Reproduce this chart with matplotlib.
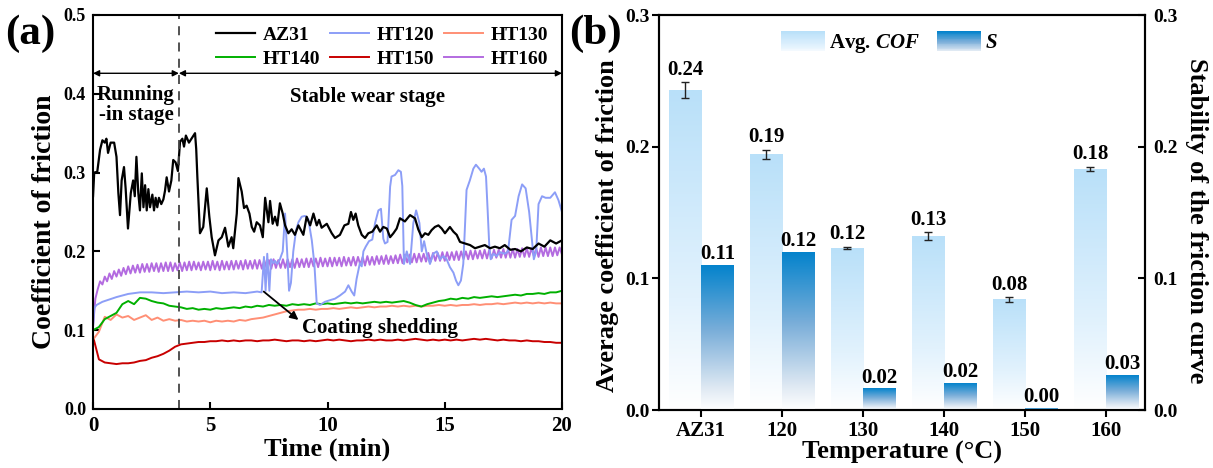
import numpy as np
import matplotlib
matplotlib.use("Agg")
import matplotlib.pyplot as plt
from matplotlib.colors import LinearSegmentedColormap
from matplotlib.patches import Rectangle
from matplotlib.legend_handler import HandlerBase

plt.rcParams['font.family'] = 'Liberation Serif'
plt.rcParams['font.weight'] = 'bold'
plt.rcParams['axes.labelweight'] = 'bold'
plt.rcParams['axes.linewidth'] = 1.5
plt.rcParams['mathtext.fontset'] = 'custom'
plt.rcParams['mathtext.it'] = 'Liberation Serif:italic:bold'
plt.rcParams['mathtext.rm'] = 'Liberation Serif:bold'

# ---- (a) friction curves ----
az31_t = [0.0, 0.05, 0.18, 0.3, 0.4, 0.5, 0.57, 0.64, 0.75, 0.9, 1.0, 1.08, 1.15, 1.22, 1.32,
          1.39, 1.49, 1.61, 1.71, 1.78, 1.85, 1.93, 2.0, 2.08, 2.15, 2.22, 2.29, 2.36, 2.43,
          2.53, 2.6, 2.67, 2.74, 2.81, 2.91, 3.0, 3.07, 3.14, 3.24, 3.34, 3.42, 3.52, 3.62,
          3.71, 3.81, 3.88, 3.96, 4.09, 4.24, 4.35, 4.4, 4.45, 4.56, 4.7, 4.85, 4.96, 5.06,
          5.2, 5.35, 5.49, 5.63, 5.77, 5.91, 5.98, 6.13, 6.2, 6.34, 6.44, 6.55, 6.67, 6.77,
          6.87, 6.98, 7.12, 7.24, 7.34, 7.48, 7.55, 7.66, 7.76, 7.86, 7.97, 8.09, 8.19, 8.33,
          8.47, 8.61, 8.76, 8.97, 9.11, 9.26, 9.4, 9.54, 9.64, 9.75, 9.97, 10.18, 10.32,
          10.53, 10.72, 10.89, 11.0, 11.1, 11.2, 11.31, 11.46, 11.6, 11.74, 11.91, 12.1,
          12.24, 12.38, 12.53, 12.67, 12.81, 12.95, 13.09, 13.3, 13.52, 13.73, 13.87, 14.02,
          14.16, 14.3, 14.44, 14.58, 14.73, 14.87, 15.01, 15.22, 15.37, 15.51, 15.65, 15.86,
          16.08, 16.29, 16.5, 16.71, 16.93, 17.14, 17.35, 17.56, 17.8, 18.0, 18.25, 18.5,
          18.75, 19.0, 19.25, 19.5, 19.75, 20.0]
az31_v = [0.27, 0.30, 0.301, 0.329, 0.341, 0.338, 0.343, 0.325, 0.338, 0.338, 0.32, 0.274,
          0.246, 0.29, 0.307, 0.28, 0.229, 0.274, 0.29, 0.27, 0.32, 0.274, 0.252, 0.299,
          0.256, 0.284, 0.252, 0.279, 0.256, 0.272, 0.252, 0.268, 0.256, 0.268, 0.26, 0.266,
          0.277, 0.294, 0.276, 0.29, 0.316, 0.313, 0.302, 0.339, 0.343, 0.333, 0.347, 0.338,
          0.345, 0.35, 0.33, 0.294, 0.223, 0.231, 0.28, 0.244, 0.218, 0.195, 0.214, 0.218,
          0.23, 0.206, 0.218, 0.204, 0.248, 0.293, 0.276, 0.255, 0.258, 0.248, 0.231, 0.225,
          0.237, 0.233, 0.218, 0.268, 0.237, 0.264, 0.235, 0.244, 0.233, 0.261, 0.248, 0.233,
          0.223, 0.228, 0.221, 0.233, 0.221, 0.244, 0.233, 0.248, 0.233, 0.24, 0.23, 0.235,
          0.223, 0.217, 0.221, 0.233, 0.235, 0.25, 0.24, 0.248, 0.233, 0.221, 0.217, 0.223,
          0.225, 0.233, 0.225, 0.231, 0.229, 0.218, 0.223, 0.229, 0.242, 0.238, 0.246, 0.242,
          0.228, 0.218, 0.223, 0.221, 0.227, 0.231, 0.233, 0.229, 0.223, 0.231, 0.225, 0.221,
          0.212, 0.21, 0.208, 0.204, 0.206, 0.208, 0.204, 0.206, 0.204, 0.208, 0.202, 0.203,
          0.2, 0.205, 0.203, 0.21, 0.206, 0.214, 0.21, 0.214]

ht120_t = [0.0, 0.05, 0.15, 0.4, 0.7, 1.0, 1.5, 2.0, 2.5, 3.0, 3.5, 4.0, 4.5, 5.0, 5.5, 6.0,
           6.5, 7.0, 7.19, 7.29, 7.36, 7.43, 7.52, 7.59, 7.69, 7.76, 7.86, 7.97, 8.09, 8.19,
           8.29, 8.36, 8.44, 8.54, 8.66, 8.76, 8.9, 9.04, 9.18, 9.33, 9.44, 9.54, 9.68, 9.89,
           10.1, 10.32, 10.53, 10.75, 10.89, 11.03, 11.14, 11.24, 11.38, 11.46, 11.53, 11.63,
           11.77, 11.91, 12.03, 12.17, 12.28, 12.38, 12.45, 12.56, 12.67, 12.73, 12.88, 13.02,
           13.13, 13.19, 13.26, 13.38, 13.52, 13.66, 13.78, 13.92, 14.02, 14.12, 14.23, 14.37,
           14.51, 14.66, 14.8, 14.94, 15.08, 15.22, 15.37, 15.48, 15.58, 15.69, 15.79, 15.86,
           15.93, 16.07, 16.22, 16.33, 16.47, 16.57, 16.67, 16.76, 16.83, 16.9, 16.96, 17.07,
           17.22, 17.35, 17.56, 17.7, 17.85, 18.0, 18.15, 18.3, 18.45, 18.6, 18.7, 18.8, 18.9,
           19.0, 19.15, 19.3, 19.5, 19.7, 19.85, 20.0]
ht120_v = [0.105, 0.128, 0.132, 0.136, 0.139, 0.142, 0.146, 0.148, 0.148, 0.147, 0.148, 0.149,
           0.148, 0.149, 0.147, 0.148, 0.147, 0.149, 0.148, 0.193, 0.15, 0.197, 0.15, 0.19,
           0.185, 0.188, 0.184, 0.19, 0.2, 0.248, 0.193, 0.15, 0.16, 0.2, 0.227, 0.237, 0.244,
           0.245, 0.241, 0.214, 0.184, 0.134, 0.132, 0.136, 0.138, 0.14, 0.144, 0.149, 0.157,
           0.149, 0.144, 0.165, 0.185, 0.181, 0.2, 0.206, 0.213, 0.215, 0.236, 0.252, 0.254,
           0.216, 0.21, 0.212, 0.282, 0.295, 0.297, 0.303, 0.301, 0.283, 0.184, 0.2, 0.184,
           0.236, 0.252, 0.236, 0.2, 0.213, 0.197, 0.184, 0.197, 0.2, 0.19, 0.194, 0.19, 0.18,
           0.173, 0.163, 0.157, 0.163, 0.184, 0.23, 0.278, 0.29, 0.305, 0.31, 0.305, 0.301,
           0.305, 0.295, 0.252, 0.206, 0.19, 0.197, 0.194, 0.199, 0.197, 0.2, 0.24, 0.245,
           0.27, 0.285, 0.28, 0.25, 0.22, 0.19, 0.2, 0.26, 0.27, 0.268, 0.268, 0.275, 0.265,
           0.25]

# readings every 0.25 min
grid_t = np.linspace(0, 20, 81)
ht130_v = [0.088, 0.098, 0.117, 0.113, 0.120, 0.116, 0.118, 0.113, 0.116, 0.119, 0.113, 0.116,
           0.112, 0.114, 0.112, 0.113, 0.111, 0.112, 0.111, 0.112, 0.110, 0.112, 0.111, 0.112,
           0.111, 0.113, 0.112, 0.114, 0.115, 0.116, 0.118, 0.120, 0.122, 0.124, 0.125, 0.126,
           0.126, 0.127, 0.126, 0.127, 0.127, 0.128, 0.127, 0.128, 0.129, 0.128, 0.129, 0.130,
           0.129, 0.130, 0.130, 0.131, 0.130, 0.131, 0.130, 0.131, 0.130, 0.131, 0.131, 0.132,
           0.131, 0.132, 0.131, 0.132, 0.132, 0.133, 0.132, 0.133, 0.133, 0.134, 0.133, 0.134,
           0.135, 0.134, 0.135, 0.134, 0.135, 0.134, 0.135, 0.134, 0.134]
ht140_v = [0.100, 0.104, 0.114, 0.118, 0.122, 0.133, 0.137, 0.133, 0.141, 0.140, 0.137, 0.135,
           0.134, 0.131, 0.130, 0.129, 0.127, 0.128, 0.126, 0.127, 0.126, 0.128, 0.127, 0.128,
           0.129, 0.128, 0.130, 0.129, 0.131, 0.130, 0.132, 0.131, 0.132, 0.131, 0.133, 0.132,
           0.133, 0.132, 0.134, 0.133, 0.134, 0.133, 0.134, 0.135, 0.134, 0.135, 0.134, 0.135,
           0.136, 0.135, 0.136, 0.135, 0.136, 0.137, 0.135, 0.132, 0.130, 0.133, 0.135, 0.137,
           0.138, 0.140, 0.139, 0.141, 0.140, 0.142, 0.141, 0.142, 0.143, 0.142, 0.143, 0.144,
           0.145, 0.144, 0.146, 0.146, 0.147, 0.146, 0.148, 0.148, 0.150]
ht150_v = [0.092, 0.063, 0.059, 0.058, 0.057, 0.058, 0.058, 0.059, 0.061, 0.062, 0.065, 0.067,
           0.070, 0.074, 0.079, 0.082, 0.083, 0.084, 0.085, 0.085, 0.086, 0.086, 0.087, 0.086,
           0.087, 0.086, 0.087, 0.087, 0.086, 0.087, 0.087, 0.088, 0.087, 0.086, 0.087, 0.087,
           0.086, 0.087, 0.086, 0.087, 0.088, 0.087, 0.088, 0.087, 0.086, 0.087, 0.087, 0.088,
           0.087, 0.088, 0.087, 0.087, 0.088, 0.087, 0.088, 0.089, 0.088, 0.087, 0.088, 0.087,
           0.088, 0.087, 0.088, 0.087, 0.088, 0.089, 0.088, 0.089, 0.088, 0.087, 0.088, 0.087,
           0.087, 0.086, 0.087, 0.086, 0.086, 0.085, 0.085, 0.084, 0.084]

# readings every 0.1 min (oscillating trace)
fine_t = np.linspace(0, 20, 201)
ht160_v = [0.105, 0.140, 0.152, 0.162, 0.158, 0.168, 0.162, 0.172, 0.165, 0.175,
           0.168, 0.177, 0.169, 0.179, 0.171, 0.181, 0.172, 0.182, 0.173, 0.183,
           0.173, 0.184, 0.174, 0.184, 0.174, 0.185, 0.175, 0.185, 0.174, 0.185,
           0.175, 0.186, 0.175, 0.186, 0.175, 0.185, 0.176, 0.186, 0.175, 0.186,
           0.176, 0.187, 0.176, 0.187, 0.177, 0.186, 0.176, 0.187, 0.177, 0.187,
           0.176, 0.188, 0.177, 0.187, 0.176, 0.188, 0.177, 0.187, 0.177, 0.188,
           0.177, 0.188, 0.178, 0.188, 0.177, 0.189, 0.178, 0.188, 0.178, 0.189,
           0.178, 0.189, 0.178, 0.189, 0.179, 0.189, 0.178, 0.190, 0.179, 0.189,
           0.179, 0.190, 0.179, 0.190, 0.180, 0.190, 0.179, 0.191, 0.180, 0.190,
           0.180, 0.191, 0.180, 0.191, 0.181, 0.191, 0.180, 0.192, 0.181, 0.191,
           0.181, 0.192, 0.181, 0.192, 0.182, 0.192, 0.181, 0.193, 0.182, 0.192,
           0.182, 0.193, 0.182, 0.193, 0.183, 0.193, 0.182, 0.194, 0.183, 0.193,
           0.183, 0.194, 0.184, 0.194, 0.184, 0.195, 0.184, 0.194, 0.185, 0.195,
           0.185, 0.196, 0.185, 0.196, 0.186, 0.196, 0.186, 0.197, 0.186, 0.197,
           0.187, 0.197, 0.187, 0.198, 0.187, 0.198, 0.188, 0.198, 0.188, 0.199,
           0.188, 0.199, 0.189, 0.199, 0.189, 0.200, 0.189, 0.200, 0.190, 0.200,
           0.190, 0.201, 0.190, 0.201, 0.191, 0.201, 0.191, 0.202, 0.191, 0.202,
           0.191, 0.202, 0.192, 0.202, 0.192, 0.203, 0.192, 0.203, 0.192, 0.203,
           0.192, 0.203, 0.193, 0.204, 0.193, 0.204, 0.193, 0.204, 0.194, 0.204,
           0.193, 0.205, 0.194, 0.205, 0.194, 0.205, 0.194, 0.205, 0.195, 0.205,
           0.196]

stage_split = 3.66

# ---- (b) average COF and stability ----
categories = ['AZ31', '120', '130', '140', '150', '160']
avg_cof = [0.243, 0.194, 0.123, 0.132, 0.084, 0.183]
cof_err = [0.006, 0.0035, 0.001, 0.003, 0.0017, 0.0015]
stability = [0.110, 0.120, 0.016, 0.020, 0.0013, 0.026]

light_cmap = LinearSegmentedColormap.from_list(
    'light', [(0, '#ffffff'), (0.35, '#e2f2fd'), (1, '#b9e0f9')])
dark_cmap = LinearSegmentedColormap.from_list(
    'dark', [(0, '#ffffff'), (0.15, '#dfe9f3'), (0.55, '#7aaed9'), (1, '#0483cc')])


class GradientHandler(HandlerBase):
    def __init__(self, cmap, steps=24):
        super().__init__()
        self.cmap = cmap
        self.steps = steps

    def create_artists(self, legend, orig_handle, xdescent, ydescent,
                       width, height, fontsize, trans):
        pieces = []
        dh = height / self.steps
        for i in range(self.steps):
            r = Rectangle((-xdescent, -ydescent + i * dh), width, dh * 1.05,
                          facecolor=self.cmap(0.15 + 0.85 * i / (self.steps - 1)),
                          edgecolor='none', lw=0, transform=trans)
            pieces.append(r)
        return pieces


def gradient_fill(ax, bars, cmap):
    grad = np.linspace(0, 1, 256).reshape(-1, 1)
    for b in bars:
        x0, y0 = b.get_xy()
        ax.imshow(grad, extent=[x0, x0 + b.get_width(), y0, y0 + b.get_height()],
                  origin='lower', cmap=cmap, aspect='auto', zorder=2,
                  interpolation='bilinear')


fig = plt.figure(figsize=(12.13, 4.68), dpi=100)
ax = fig.add_axes([0.0767, 0.1261, 0.3866, 0.8419])
axb = fig.add_axes([0.5433, 0.1239, 0.4007, 0.8440])

lw = 1.4
l150, = ax.plot(grid_t, ht150_v, color='#c80000', lw=lw, label='HT150')
l130, = ax.plot(grid_t, ht130_v, color='#ff8f75', lw=lw, label='HT130')
l140, = ax.plot(grid_t, ht140_v, color='#00b000', lw=lw, label='HT140')
l160, = ax.plot(fine_t, ht160_v, color='#b36be0', lw=lw, label='HT160')
l120, = ax.plot(ht120_t, ht120_v, color='#8c9ef7', lw=lw, label='HT120')
laz, = ax.plot(az31_t, az31_v, color='black', lw=1.6, label='AZ31')

ax.axvline(stage_split, color='#444444', lw=1.3, ls=(0, (5, 4)))
arrow = dict(arrowstyle='<|-|>', color='black', lw=1.0, mutation_scale=9,
             shrinkA=0, shrinkB=0)
ax.annotate('', xy=(0, 0.426), xytext=(stage_split, 0.426), arrowprops=arrow)
ax.annotate('', xy=(stage_split, 0.426), xytext=(20, 0.426), arrowprops=arrow)
ax.text(1.83, 0.386, 'Running\n-in stage', ha='center', va='center', fontsize=15,
        linespacing=1.0)
ax.text(11.7, 0.396, 'Stable wear stage', ha='center', va='center', fontsize=15)
ax.annotate('', xy=(8.76, 0.113), xytext=(7.28, 0.149),
            arrowprops=dict(arrowstyle='-|>', color='black', lw=1.3,
                            mutation_scale=12, shrinkA=0, shrinkB=0))
ax.text(8.9, 0.103, 'Coating shedding', ha='left', va='center', fontsize=15)

ax.set_xlim(0, 20)
ax.set_ylim(0, 0.5)
ax.set_xticks([0, 5, 10, 15, 20])
ax.set_yticks([0.0, 0.1, 0.2, 0.3, 0.4, 0.5])
ax.tick_params(direction='in', length=5, width=1.5)
ax.tick_params(axis='x', labelsize=15, pad=5)
ax.tick_params(axis='y', labelsize=13, pad=5)
ax.set_xlabel('Time (min)', fontsize=19, labelpad=1)
ax.set_ylabel('Coefficient of friction', fontsize=20, labelpad=5)
ax.yaxis.label.set_y(0.475)
ax.legend([laz, l140, l120, l150, l130, l160],
          ['AZ31', 'HT140', 'HT120', 'HT150', 'HT130', 'HT160'],
          ncol=3, loc='upper right', bbox_to_anchor=(0.995, 1.0), frameon=False,
          fontsize=14, handlelength=2.0, handletextpad=0.4, columnspacing=0.5,
          labelspacing=0.3, borderaxespad=0.2)

# ---- (b) ----
x = np.arange(len(categories))
ax2 = axb.twinx()
cof_bars = axb.bar(x, avg_cof, width=-0.4, align='edge', color='none', edgecolor='none')
gradient_fill(axb, cof_bars, light_cmap)
axb.errorbar(x - 0.2, avg_cof, yerr=cof_err, fmt='none', ecolor='#222222',
             elinewidth=1.0, capsize=3, capthick=1.0, zorder=3)
for xi, v, e in zip(x, avg_cof, cof_err):
    axb.text(xi - 0.2, v + e + 0.002, '{:.2f}'.format(v), ha='center', va='bottom',
             fontsize=15)

s_bars = ax2.bar(x, stability, width=0.4, align='edge', color='none', edgecolor='none')
gradient_fill(ax2, s_bars, dark_cmap)
for xi, v in zip(x, stability):
    ax2.text(xi + 0.2, v + 0.001, '{:.2f}'.format(v), ha='center', va='bottom',
             fontsize=15)

for a in (axb, ax2):
    a.set_xlim(-0.52, 5.48)
    a.set_ylim(0, 0.3)
    a.set_yticks([0.0, 0.1, 0.2, 0.3])
axb.set_xticks(x)
axb.set_xticklabels(categories)
axb.tick_params(axis='x', direction='out', length=5, width=1.5, labelsize=15, pad=3)
axb.tick_params(axis='y', direction='out', length=5, width=1.5, labelsize=14, pad=2)
ax2.tick_params(axis='y', direction='in', length=5, width=1.5, labelsize=14, pad=6)
axb.set_xlabel('Temperature (°C)', fontsize=19, labelpad=0)
axb.set_ylabel('Average coefficient of friction', fontsize=19, labelpad=4)
axb.yaxis.label.set_y(0.468)
ax2.set_ylabel('Stability of the friction curve', fontsize=19, rotation=270,
               labelpad=22)
ax2.yaxis.label.set_y(0.48)

p_light = Rectangle((0, 0), 1, 1, label='Avg. $COF$')
p_dark = Rectangle((0, 0), 1, 1, label='$S$')
ax2.legend(handles=[p_light, p_dark], ncol=2, loc='center',
           bbox_to_anchor=(0.474, 0.929), frameon=False, fontsize=15,
           handlelength=2.1, handleheight=1.1, handletextpad=0.2, columnspacing=0.8,
           handler_map={p_light: GradientHandler(light_cmap),
                        p_dark: GradientHandler(dark_cmap)})

fig.text(0.004, 0.97, '(a)', fontsize=31, va='top', ha='left')
fig.text(0.469, 0.97, '(b)', fontsize=31, va='top', ha='left')

fig.savefig('out.png', dpi=100)
